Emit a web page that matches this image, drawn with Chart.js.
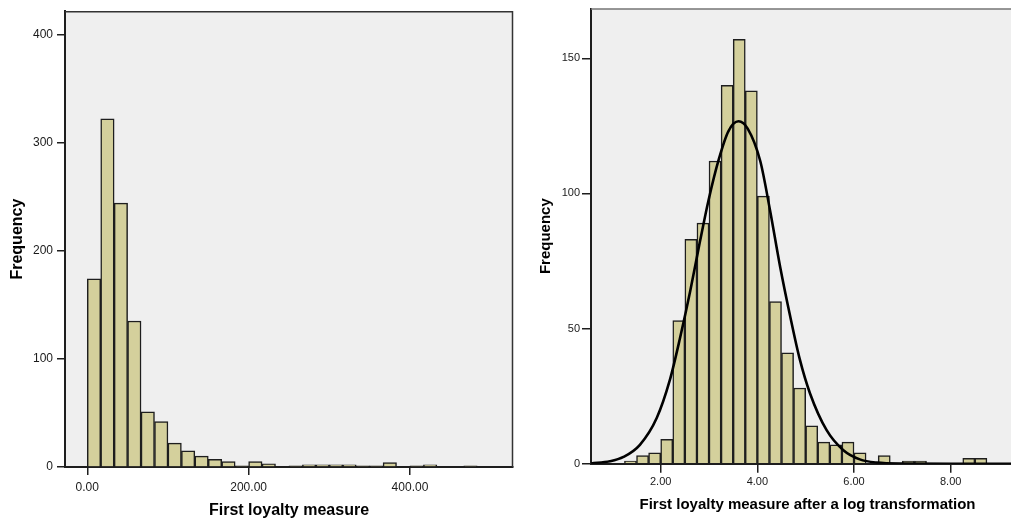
<!DOCTYPE html>
<html><head><meta charset="utf-8">
<script src="https://cdn.jsdelivr.net/npm/chart.js@4/dist/chart.umd.min.js"></script>
<style>
html,body{margin:0;padding:0;background:#fff;width:1011px;height:520px;overflow:hidden;position:relative}
#w1{position:absolute;left:0;top:0;width:520px;height:520px}
#w2{position:absolute;left:520px;top:0;width:520px;height:520px}
</style></head><body>
<div id="w1"><canvas id="c1"></canvas></div>
<div id="w2"><canvas id="c2"></canvas></div>
<script>
// ---- Left histogram: First loyalty measure ----
const rawBinCenters = [8.33, 25, 41.67, 58.33, 75, 91.67, 108.33, 125, 141.67, 158.33, 175, 191.67, 208.33, 225, 241.67, 258.33, 275, 291.67, 308.33, 325, 341.67, 358.33, 375, 391.67, 408.33, 425, 441.67, 458.33, 475];
const rawCounts     = [174, 322, 244, 135, 51, 42, 22, 15, 10, 7, 5, 1, 5, 3, 0, 1, 2, 2, 2, 2, 1, 1, 4, 0, 1, 2, 0, 0, 1];
const rawXTicks = [0, 200, 400];
const rawYTicks = [0, 100, 200, 300, 400];

// ---- Right histogram: after log transformation ----
const logBinCenters = [1.375, 1.625, 1.875, 2.125, 2.375, 2.625, 2.875, 3.125, 3.375, 3.625, 3.875, 4.125, 4.375, 4.625, 4.875, 5.125, 5.375, 5.625, 5.875, 6.125, 6.375, 6.625, 6.875, 7.125, 7.375, 7.625, 7.875, 8.125, 8.375, 8.625];
const logCounts     = [1, 3, 4, 9, 53, 83, 89, 112, 140, 157, 138, 99, 60, 41, 28, 14, 8, 7, 8, 4, 0, 3, 0, 1, 1, 0, 0, 0, 2, 2];
const logXTicks = [2, 4, 6, 8];
const logYTicks = [0, 50, 100, 150];

// normal curve
const curveX = [0.56, 0.95, 1.23, 1.57, 1.92, 2.19, 2.40, 2.61, 2.81, 2.99, 3.20, 3.40, 3.61, 3.80, 4.06, 4.26, 4.47, 4.68, 4.88, 5.09, 5.43, 5.78, 6.12, 6.47, 7.00, 8.00, 9.52];
const curveY = [0.1, 0.9, 2.5, 7.0, 17.0, 31.0, 46.5, 63.8, 82.0, 97.5, 112.5, 123, 126.7, 124, 112, 94, 73, 54.5, 38.5, 26, 12.5, 5.0, 1.6, 0.4, 0.05, 0, 0];

const FONT = "'Liberation Sans', Arial, sans-serif";
const BAR_FILL = '#D4D09C';
const BAR_EDGE = '#1e1e1e';
const AXIS = '#1e1e1e';

const framePlugin = {
  id: 'frame',
  beforeDraw(chart, args, o) {
    const {ctx, chartArea: a} = chart;
    ctx.save();
    ctx.fillStyle = o.bg;
    ctx.fillRect(a.left, a.top, a.right - a.left, a.bottom - a.top);
    ctx.restore();
  },
  afterDraw(chart, args, o) {
    const {ctx, chartArea: a} = chart;
    ctx.save();
    ctx.strokeStyle = o.color;
    ctx.lineWidth = o.width;
    ctx.beginPath();
    ctx.moveTo(a.left, a.top + 0.5);
    ctx.lineTo(a.right - 0.5, a.top + 0.5);
    ctx.lineTo(a.right - 0.5, a.bottom);
    ctx.stroke();
    ctx.restore();
  }
};

function pts(xs, ys) { return xs.map((x, i) => ({x: x, y: ys[i]})); }

function makeChart(id, cfg) {
  return new Chart(document.getElementById(id), {
    type: 'bar',
    data: {datasets: cfg.datasets},
    options: {
      animation: false,
      responsive: true,
      maintainAspectRatio: false,
      devicePixelRatio: 1,
      layout: {padding: cfg.padding},
      plugins: {legend: {display: false}, tooltip: {enabled: false},
        frame: {bg: '#EFEFEF', color: cfg.frameColor, width: 1.5}},
      scales: {
        x: {
          type: 'linear', min: cfg.xmin, max: cfg.xmax, offset: false,
          afterFit: s => { s.height = cfg.xH; },
          afterBuildTicks: s => { s.ticks = cfg.xTicks.map(v => ({value: v})); },
          grid: {display: true, drawOnChartArea: false, drawTicks: true, tickLength: cfg.tickLen, color: AXIS, lineWidth: 1.5, offset: false},
          border: {display: true, color: AXIS, width: 2},
          ticks: {color: '#1a1a1a', padding: cfg.xTickPad, maxRotation: 0, autoSkip: false,
            font: {family: FONT, size: cfg.tickSize}, callback: v => Number(v).toFixed(2)},
          title: {display: true, text: cfg.xTitle, color: '#000',
            font: {family: FONT, size: cfg.titleSize, weight: 'bold'}, padding: {top: 0, bottom: cfg.xTitlePad}}
        },
        y: {
          min: 0, max: cfg.ymax,
          afterFit: s => { s.width = cfg.yW; },
          afterBuildTicks: s => { s.ticks = cfg.yTicks.map(v => ({value: v})); },
          grid: {display: true, drawOnChartArea: false, drawTicks: true, tickLength: cfg.tickLen, color: AXIS, lineWidth: 1.5},
          border: {display: true, color: AXIS, width: 2},
          ticks: {color: '#1a1a1a', padding: cfg.yTickPad, autoSkip: false,
            font: {family: FONT, size: cfg.tickSize}},
          title: {display: true, text: 'Frequency', color: '#000',
            font: {family: FONT, size: cfg.titleSize, weight: 'bold'}, padding: {top: cfg.yTitlePad, bottom: 0}}
        }
      }
    },
    plugins: [framePlugin]
  });
}

function barSet(xs, ys) {
  return {
    type: 'bar', data: pts(xs, ys),
    backgroundColor: BAR_FILL, borderColor: BAR_EDGE, borderWidth: 1.5,
    barPercentage: 1, categoryPercentage: 1, grouped: false, order: 2
  };
}

makeChart('c1', {
  datasets: [barSet(rawBinCenters, rawCounts)],
  padding: {top: 8, right: 7, left: 0, bottom: 0},
  xmin: -27.6, xmax: 527.7, ymax: 421.4,
  xTicks: rawXTicks, yTicks: rawYTicks,
  xH: 53, yW: 65, tickLen: 8, xTickPad: 5, yTickPad: 4, tickSize: 12,
  titleSize: 16, xTitlePad: 0, yTitlePad: 8,
  xTitle: 'First loyalty measure', frameColor: '#333'
});

makeChart('c2', {
  datasets: [
    barSet(logBinCenters, logCounts),
    {type: 'line', data: pts(curveX, curveY), borderColor: '#000', borderWidth: 2.6,
     pointRadius: 0, fill: false, cubicInterpolationMode: 'monotone', order: 1}
  ],
  padding: {top: 6.7, right: 16, left: 0, bottom: 0},
  xmin: 0.558, xmax: 9.517, ymax: 168.4,
  xTicks: logXTicks, yTicks: logYTicks,
  xH: 56.3, yW: 71, tickLen: 9, xTickPad: 2.5, yTickPad: 2, tickSize: 11,
  titleSize: 15, xTitlePad: 6, yTitlePad: 16.5,
  xTitle: 'First loyalty measure after a log transformation', frameColor: '#777'
});
</script>
</body></html>
